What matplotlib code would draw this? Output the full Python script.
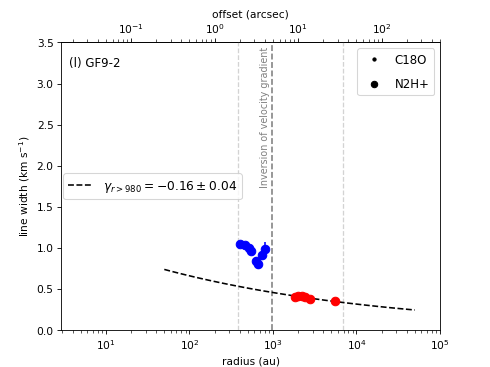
import numpy as np
import matplotlib.pyplot as plt
from matplotlib.ticker import LogLocator, NullFormatter

# C18O (blue) and N2H+ (red) line widths vs radius
r_c18o = [403, 462, 516, 545, 621, 667, 732, 802]
w_c18o = [1.045, 1.035, 0.995, 0.965, 0.84, 0.80, 0.91, 0.99]
e_c18o = [0.03, 0.03, 0.03, 0.03, 0.05, 0.06, 0.06, 0.08]

r_n2h = [1833, 1990, 2222, 2417, 2773, 5530]
w_n2h = [0.40, 0.41, 0.41, 0.40, 0.38, 0.35]
e_n2h = [0.02, 0.02, 0.02, 0.02, 0.02, 0.02]

fit_r = [50, 50000]
fit_amp = 1.38
fit_gamma = -0.16
fit_err = 0.04
r_break = 980
r_lim = [380, 6900]
dist = 200  # pc
top_ticks = [0.1, 1, 10, 100]

fig, ax = plt.subplots(figsize=(6.4, 4.8), dpi=490 / 6.4)
fig.subplots_adjust(left=0.1245, right=0.898, top=0.883, bottom=0.1005)

ax.axvline(r_lim[0], color='lightgray', ls='--', lw=1.2)
ax.axvline(r_lim[1], color='lightgray', ls='--', lw=1.2)
ax.axvline(r_break, color='gray', ls='--', lw=1.5)
ax.text(r_break * 0.93, 3.45, 'Inversion of velocity gradient', rotation=90,
        color='gray', fontsize=9, ha='right', va='top')

ax.errorbar(r_c18o, w_c18o, yerr=e_c18o, fmt='o', color='blue', ms=8, elinewidth=1.5)
ax.errorbar(r_n2h, w_n2h, yerr=e_n2h, fmt='o', color='red', ms=8, elinewidth=1.5)

rr = np.logspace(np.log10(fit_r[0]), np.log10(fit_r[1]), 100)
fit_line, = ax.plot(rr, fit_amp * rr ** fit_gamma, 'k--', lw=1.5)

h1, = ax.plot([], [], '.', color='k', label='C18O')
h2, = ax.plot([], [], 'o', color='k', label='N2H+')
leg1 = ax.legend(handles=[h1, h2], loc='upper right', fontsize=11, labelspacing=1.0)
ax.add_artist(leg1)
ax.legend([fit_line], [r'$\gamma_{r>%d} = %.2f \pm %.2f$' % (r_break, fit_gamma, fit_err)],
          loc='center left', fontsize=11.5, borderaxespad=0.2)

ax.text(0.022, 0.915, '(l) GF9-2', transform=ax.transAxes, fontsize=11)

ax.set_xscale('log')
ax.set_xlim(2.9, 1e5)
ax.set_ylim(0, 3.5)
ax.xaxis.set_minor_locator(LogLocator(base=10, subs=np.arange(2, 10), numticks=20))
ax.xaxis.set_minor_formatter(NullFormatter())
ax.tick_params(which='minor', length=2.5)
ax.set_xlabel('radius (au)')
ax.set_ylabel(r'line width (km s$^{-1}$)')

sec = ax.secondary_xaxis('top', functions=(lambda x: x / dist, lambda x: x * dist))
sec.set_xticks(top_ticks)
sec.xaxis.set_minor_locator(LogLocator(base=10, subs=np.arange(2, 10), numticks=20))
sec.xaxis.set_minor_formatter(NullFormatter())
sec.tick_params(which='minor', length=2.5)
sec.set_xlabel('offset (arcsec)')

fig.savefig('out.png')
